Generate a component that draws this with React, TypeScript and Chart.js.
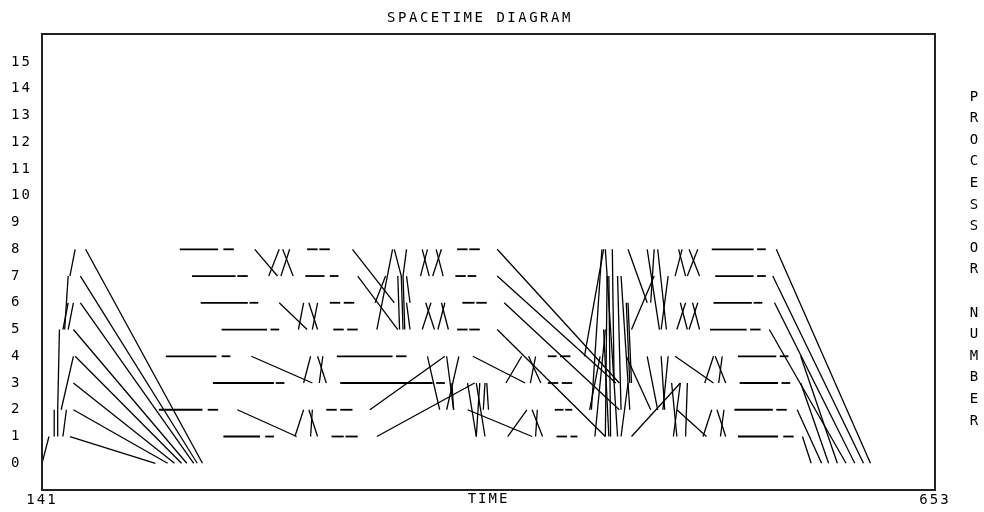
import React, { useEffect, useRef } from "react";
import { Chart, registerables } from "chart.js";

Chart.register(...registerables);

const chartTitle = "SPACETIME DIAGRAM";
const xAxisTitle = "TIME";
const yAxisTitle = "PROCESSOR NUMBER";
const timeTicks = [141, 653];
const processorTicks = [0, 1, 2, 3, 4, 5, 6, 7, 8, 9, 10, 11, 12, 13, 14, 15];

// [processor, start time, end time]
const busyIntervals: number[][] = [
  [8, 220, 242], [8, 525, 549],
  [7, 227, 252], [7, 527, 549],
  [6, 232, 259], [6, 526, 548],
  [5, 244, 270], [5, 524, 545],
  [4, 212, 241], [4, 310, 342], [4, 540, 562],
  [3, 239, 274], [3, 312, 365], [3, 541, 563],
  [2, 208, 233], [2, 538, 560],
  [1, 245, 266], [1, 540, 563],
];

// [processor, start time, end time]
const idleIntervals: number[][] = [
  [8, 245, 251], [8, 293, 299], [8, 300, 306], [8, 379, 385], [8, 386, 392], [8, 551, 556],
  [7, 253, 259], [7, 292, 303], [7, 306, 311], [7, 378, 384], [7, 385, 390], [7, 551, 556],
  [6, 260, 265], [6, 306, 312], [6, 314, 320], [6, 382, 389], [6, 390, 396], [6, 549, 554],
  [5, 272, 277], [5, 308, 314], [5, 316, 322], [5, 379, 385], [5, 386, 392], [5, 547, 553],
  [4, 244, 249], [4, 344, 350], [4, 431, 436], [4, 438, 444], [4, 564, 569],
  [3, 275, 280], [3, 367, 372], [3, 431, 437], [3, 439, 445], [3, 565, 570],
  [2, 236, 242], [2, 304, 310], [2, 312, 319], [2, 435, 440], [2, 441, 445], [2, 562, 568],
  [1, 269, 274], [1, 307, 314], [1, 315, 322], [1, 436, 442], [1, 444, 448], [1, 566, 572],
];

// messages: [send time, from processor, receive time, to processor]
const broadcastMessages: number[][] = [
  [141, 0, 145, 1], [148, 1, 148, 2], [150, 1, 150, 2], [153, 1, 155, 2],
  [150, 2, 151, 5], [152, 2, 159, 4], [153, 5, 156, 6], [154, 5, 156, 7],
  [156, 5, 159, 6], [157, 7, 160, 8],
];

const startGatherMessages: number[][] = [
  [166, 8, 233, 0], [163, 7, 230, 0], [163, 6, 228, 0], [159, 5, 224, 0],
  [160, 4, 221, 0], [159, 3, 217, 0], [159, 2, 213, 0], [157, 1, 206, 0],
];

const exchangeMessages1: number[][] = [
  [263, 8, 276, 7], [271, 7, 277, 8], [278, 7, 283, 8], [279, 8, 285, 7],
  [277, 6, 293, 5], [288, 5, 291, 6], [294, 6, 299, 5], [296, 5, 299, 6],
  [261, 4, 296, 3], [291, 3, 295, 4], [299, 4, 304, 3], [300, 3, 302, 4],
  [253, 2, 287, 1], [286, 1, 291, 2], [294, 2, 299, 1], [295, 1, 296, 2],
];

const exchangeMessages2: number[][] = [
  [319, 8, 343, 6], [322, 7, 345, 5], [333, 5, 342, 8], [332, 6, 338, 7],
  [343, 8, 347, 7], [350, 8, 348, 7], [347, 7, 348, 5], [348, 7, 349, 5],
  [345, 7, 346, 5], [350, 7, 352, 6], [350, 6, 352, 5],
  [358, 7, 362, 8], [359, 8, 363, 7], [365, 7, 370, 8], [367, 8, 371, 7],
  [359, 5, 364, 6], [361, 6, 366, 5], [368, 5, 372, 6], [370, 6, 374, 5],
  [329, 2, 372, 4], [333, 1, 389, 3],
  [362, 4, 369, 2], [373, 4, 377, 2], [380, 4, 373, 2], [376, 3, 377, 2],
  [385, 3, 390, 1], [392, 3, 390, 1], [390, 3, 395, 1], [395, 3, 394, 2], [396, 3, 397, 2],
  [385, 2, 422, 1], [388, 4, 418, 3],
  [407, 3, 416, 4], [420, 4, 427, 3], [421, 3, 424, 4],
  [408, 1, 419, 2], [422, 2, 428, 1], [424, 1, 425, 2],
  [402, 8, 472, 3], [402, 7, 470, 3], [406, 6, 472, 2], [402, 5, 464, 1],
];

const exchangeMessages3: number[][] = [
  [452, 4, 463, 8], [464, 8, 471, 1], [462, 8, 456, 2], [468, 8, 469, 3],
  [466, 7, 467, 1], [465, 7, 464, 1], [458, 1, 464, 5], [455, 2, 461, 4],
  [473, 7, 478, 2], [476, 6, 478, 3], [477, 6, 479, 3], [477, 8, 488, 6],
  [479, 5, 492, 7], [488, 8, 495, 5], [494, 8, 499, 5], [500, 7, 496, 5], [492, 8, 490, 6],
  [476, 4, 490, 2], [479, 1, 507, 3], [488, 4, 494, 2], [496, 4, 498, 2],
  [500, 4, 497, 2], [502, 3, 505, 1], [507, 3, 503, 1], [511, 3, 510, 1],
  [505, 2, 522, 1], [463, 5, 466, 1], [477, 3, 473, 1], [471, 7, 473, 2],
  [504, 7, 508, 8], [506, 8, 510, 7], [511, 7, 517, 8], [512, 8, 518, 7],
  [505, 5, 510, 6], [507, 6, 511, 5], [512, 5, 517, 6], [514, 6, 518, 5],
  [504, 4, 526, 3], [521, 3, 526, 4], [527, 4, 533, 3], [529, 3, 531, 4],
  [520, 1, 525, 2], [528, 2, 533, 1], [530, 1, 532, 2],
];

const finalGatherMessages: number[][] = [
  [562, 8, 616, 0], [560, 7, 612, 0], [561, 6, 607, 0], [558, 5, 602, 0],
  [576, 4, 597, 0], [576, 3, 592, 0], [574, 2, 588, 0], [577, 1, 582, 0],
];

const MONO = '"DejaVu Sans Mono", "Liberation Mono", monospace';

const decorPlugin = {
  id: "decor",
  beforeDraw(chart: any) {
    (chart.ctx as any).letterSpacing = "2px";
  },
  afterDraw(chart: any) {
    const ctx = chart.ctx as CanvasRenderingContext2D;
    const { left, top, right, bottom } = chart.chartArea;
    ctx.save();
    ctx.strokeStyle = "#222";
    ctx.lineWidth = 2;
    ctx.strokeRect(left, top, right - left, bottom - top);
    ctx.fillStyle = "#000";
    ctx.font = `14px ${MONO}`;
    ctx.textAlign = "center";
    ctx.textBaseline = "middle";
    (ctx as any).letterSpacing = "2.5px";
    ctx.fillText(chartTitle, 480, 18);
    (ctx as any).letterSpacing = "0px";
    const letters = yAxisTitle.split("");
    letters.forEach((ch, i) => {
      if (ch !== " ") ctx.fillText(ch, 974, 97 + i * 21.6);
    });
    ctx.restore();
    (ctx as any).letterSpacing = "0px";
  },
};

export default function App() {
  const ref = useRef<HTMLCanvasElement>(null);

  useEffect(() => {
    if (!ref.current) return;
    const seg = (t1: number, p1: number, t2: number, p2: number, w: number) => ({
      data: [
        { x: t1, y: p1 },
        { x: t2, y: p2 },
      ],
      showLine: true,
      borderColor: "#000",
      backgroundColor: "#000",
      borderWidth: w,
      pointRadius: 0,
      pointHoverRadius: 0,
      fill: false,
    });
    const messages = [
      ...broadcastMessages,
      ...startGatherMessages,
      ...exchangeMessages1,
      ...exchangeMessages2,
      ...exchangeMessages3,
      ...finalGatherMessages,
    ];
    const datasets = [
      ...busyIntervals.map(([p, a, b]) => seg(a, p, b, p, 1.8)),
      ...idleIntervals.map(([p, a, b]) => seg(a, p, b, p, 1.8)),
      ...messages.map(([a, p, b, q]) => seg(a, p, b, q, 1.3)),
    ];
    const tickFont = { family: MONO, size: 14 };
    const chart = new Chart(ref.current, {
      type: "scatter",
      data: { datasets } as any,
      options: {
        animation: false,
        responsive: false,
        devicePixelRatio: 1,
        events: [],
        layout: { padding: { left: 11, top: 34, right: 49, bottom: 0 } },
        plugins: {
          legend: { display: false },
          tooltip: { enabled: false },
          title: { display: false },
        },
        scales: {
          x: {
            type: "linear",
            min: 141,
            max: 653,
            grid: { display: false, drawTicks: false },
            border: { display: false },
            ticks: { font: tickFont, color: "#000", padding: 2, maxRotation: 0, autoSkip: false },
            afterBuildTicks: (s: any) => {
              s.ticks = timeTicks.map((v) => ({ value: v }));
            },
            afterFit: (s: any) => {
              s.height = 22;
            },
            title: {
              display: true,
              text: xAxisTitle,
              font: tickFont,
              color: "#000",
              padding: { top: 0, bottom: 4 },
            },
          },
          y: {
            type: "linear",
            min: -1,
            max: 16.05,
            grid: { display: false, drawTicks: false },
            border: { display: false },
            ticks: { font: tickFont, color: "#000", padding: 0, crossAlign: "far", autoSkip: false },
            afterBuildTicks: (s: any) => {
              s.ticks = processorTicks.map((v) => ({ value: v }));
            },
            afterFit: (s: any) => {
              s.width = 31;
            },
          },
        },
      } as any,
      plugins: [decorPlugin],
    });
    return () => chart.destroy();
  }, []);

  return (
    <div style={{ position: "absolute", left: 0, top: 0, width: 984, height: 512, background: "#fff" }}>
      <canvas ref={ref} width={984} height={512} style={{ display: "block" }} />
    </div>
  );
}
